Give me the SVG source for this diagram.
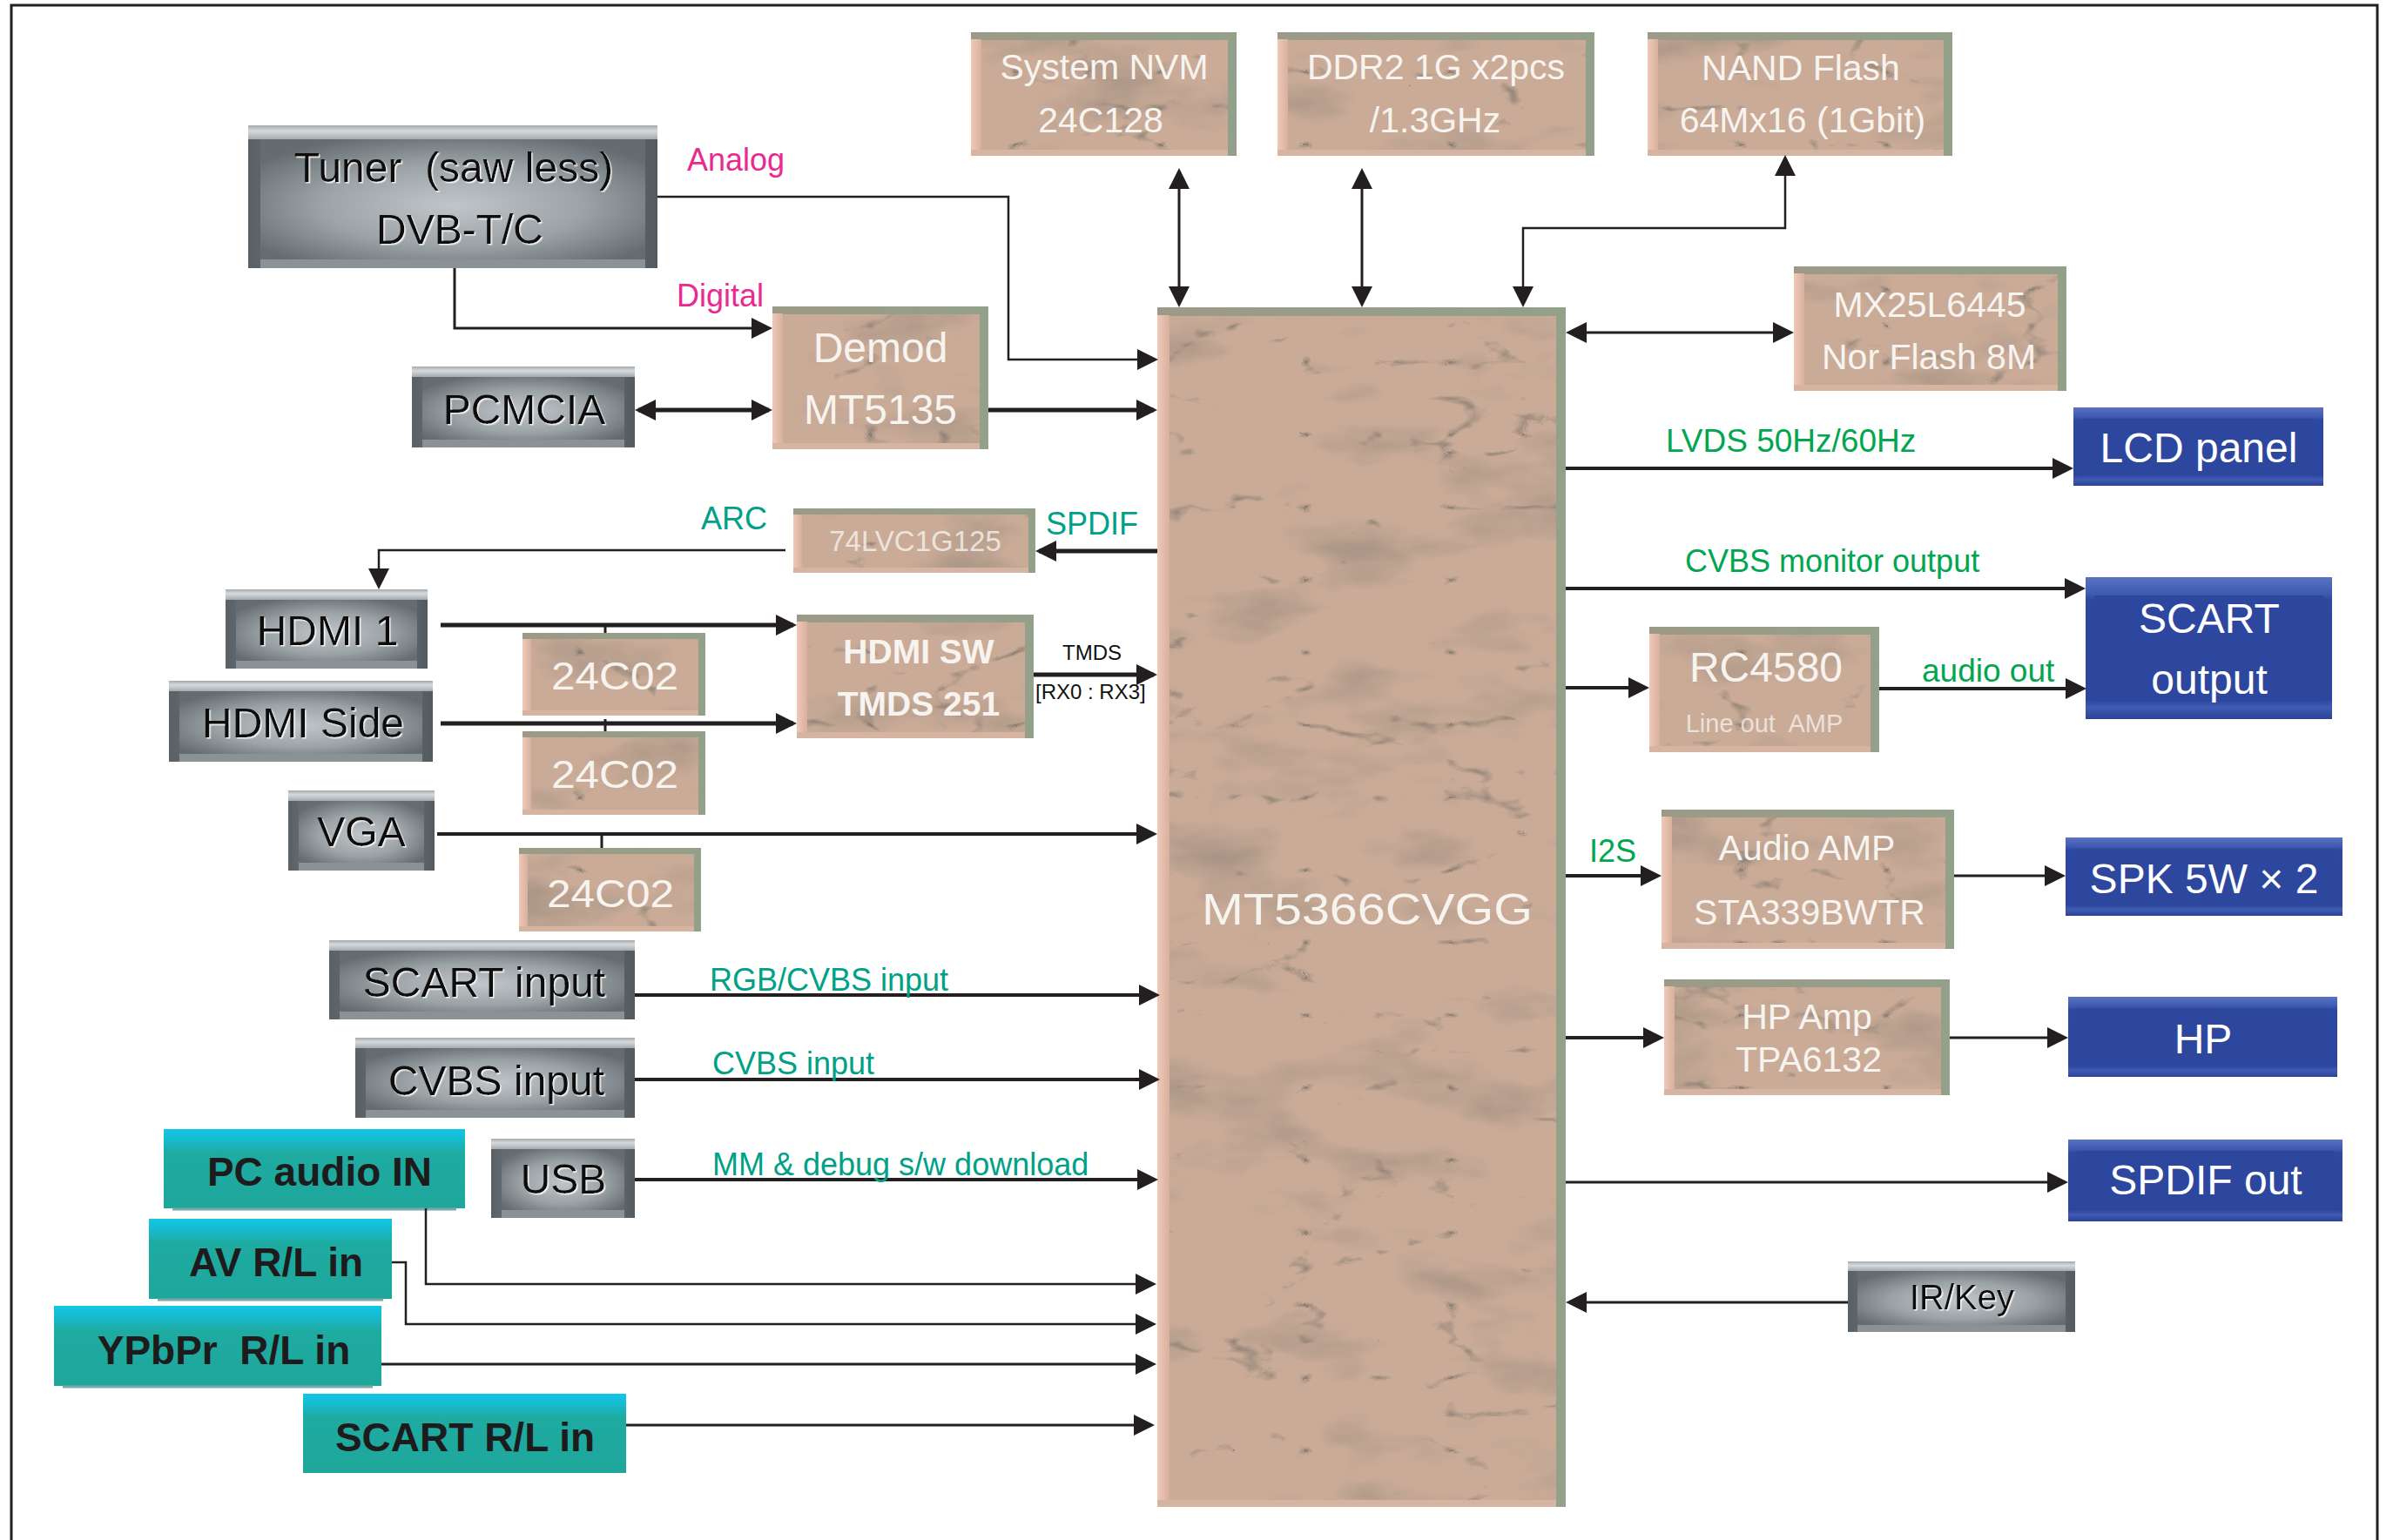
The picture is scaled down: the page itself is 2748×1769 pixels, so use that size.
<svg xmlns="http://www.w3.org/2000/svg" width="2748" height="1769" viewBox="0 0 2748 1769">
  <defs>
    <style>
      text { font-family: "Liberation Sans", Arial, sans-serif; }
      .gtx { font-size: 48px; fill: #0d0d0d; text-anchor: middle; filter: url(#hi); white-space: pre; }
      .ttx { font-size: 41px; fill: #f7f3ef; text-anchor: middle; }
      .btx { font-size: 48px; fill: #ffffff; text-anchor: middle; }
      .qtx { font-size: 46px; font-weight: bold; fill: #1e1b1d; text-anchor: middle; white-space: pre; }
      .pink { font-size: 36px; fill: #ea2a8e; }
      .teal { font-size: 36px; fill: #00a186; }
      .grn { font-size: 37px; fill: #00a650; }
      .blk { font-size: 24px; fill: #111111; white-space: pre; }
      .gs { fill: url(#gSide); }
      .gt { fill: url(#gTop); }
      .gb { fill: #8a9296; }
      .gf { fill: url(#gFace); }
      .te { fill: url(#tEdge); }
      .tl { fill: url(#tLeft); }
      .tb { fill: #d6b4a2; }
      .tf { fill: #c9ab97; filter: url(#marble); }
      .be { fill: url(#bEdge); }
      .bf { fill: #2e479e; }
      .qe { fill: url(#qEdge); }
      .qs { stroke: #79a9ad; stroke-width: 3; }
      .cn { fill: none; stroke: #231f20; stroke-linejoin: miter; }
      .w2 { stroke-width: 2.5; }
      .w3 { stroke-width: 3; }
      .w4 { stroke-width: 4; }
      .w5 { stroke-width: 5; }
    </style>
    <!-- metallic grey boxes -->
    <linearGradient id="gSide" x1="0" y1="0" x2="1" y2="0">
      <stop offset="0" stop-color="#596166"/>
      <stop offset="0.5" stop-color="#8d9498"/>
      <stop offset="1" stop-color="#535b60"/>
    </linearGradient>
    <linearGradient id="gTop" x1="0" y1="0" x2="0" y2="1">
      <stop offset="0" stop-color="#a3a9ad"/>
      <stop offset="0.4" stop-color="#d6dadd"/>
      <stop offset="1" stop-color="#a4aaae"/>
    </linearGradient>
    <radialGradient id="gFace" cx="0.5" cy="0.55" r="0.62">
      <stop offset="0" stop-color="#c0c5c9"/>
      <stop offset="0.55" stop-color="#9ca3a7"/>
      <stop offset="1" stop-color="#646c71"/>
    </radialGradient>
    <!-- marble boxes -->
    <linearGradient id="tEdge" x1="0" y1="0" x2="1" y2="0">
      <stop offset="0" stop-color="#9c9a86"/>
      <stop offset="1" stop-color="#93a08a"/>
    </linearGradient>
    <linearGradient id="tLeft" x1="0" y1="0" x2="1" y2="0">
      <stop offset="0" stop-color="#efc8b8"/>
      <stop offset="1" stop-color="#d8b09e"/>
    </linearGradient>
    <filter id="marble" x="0" y="0" width="1" height="1" color-interpolation-filters="sRGB">
      <feTurbulence type="fractalNoise" baseFrequency="0.006 0.014" numOctaves="4" seed="11" result="m"/>
      <feColorMatrix in="m" type="matrix" values="0 0 0 0 0.55  0 0 0 0 0.50  0 0 0 0 0.46  1.5 0 0 0 -0.8" result="blot"/>
      <feTurbulence type="turbulence" baseFrequency="0.006 0.012" numOctaves="4" seed="5" result="t"/>
      <feColorMatrix in="t" type="matrix" values="0 0 0 0 0.42  0 0 0 0 0.40  0 0 0 0 0.38  -5 0 0 0 0.6" result="veins"/>
      <feComposite in="blot" in2="SourceGraphic" operator="atop" result="b1"/>
      <feComposite in="veins" in2="b1" operator="atop"/>
    </filter>
    <!-- blue boxes -->
    <linearGradient id="bEdge" x1="0" y1="0" x2="0" y2="1">
      <stop offset="0" stop-color="#5a72c2"/>
      <stop offset="0.12" stop-color="#3e59b1"/>
      <stop offset="0.16" stop-color="#2f489f"/>
      <stop offset="0.86" stop-color="#2d459c"/>
      <stop offset="0.92" stop-color="#3f5bb3"/>
      <stop offset="1" stop-color="#2b4296"/>
    </linearGradient>
    <!-- teal boxes -->
    <linearGradient id="qEdge" x1="0" y1="0" x2="0" y2="1">
      <stop offset="0" stop-color="#12c6e6"/>
      <stop offset="0.14" stop-color="#17bacd"/>
      <stop offset="0.3" stop-color="#1eaba2"/>
      <stop offset="1" stop-color="#1fa79b"/>
    </linearGradient>
    <filter id="hi" x="-5%" y="-10%" width="110%" height="130%">
      <feDropShadow dx="1.5" dy="1.5" stdDeviation="0.4" flood-color="#ffffff" flood-opacity="0.85"/>
    </filter>
    <marker id="ah" viewBox="0 0 24 24" refX="20" refY="12" markerWidth="24" markerHeight="24" markerUnits="userSpaceOnUse" orient="auto-start-reverse">
      <path d="M0,0 L24,12 L0,24 z" fill="#231f20"/>
    </marker>
  </defs>

  <rect x="0" y="0" width="2748" height="1769" fill="#ffffff"/>
  <!-- page frame -->
  <rect x="13" y="6" width="2717" height="1800" fill="none" stroke="#231f20" stroke-width="3"/>

  <!-- ===== grey source / control blocks ===== -->
  <g id="tuner">
    <rect class="gs" x="285" y="144" width="470" height="164"/>
    <rect class="gt" x="285" y="144" width="470" height="16"/>
    <rect class="gb" x="299" y="298" width="442" height="10"/>
    <rect class="gf" x="299" y="160" width="442" height="138"/>
    <text class="gtx" x="521" y="209">Tuner  (saw less)</text>
    <text class="gtx" x="528" y="280">DVB-T/C</text>
  </g>
  <g id="pcmcia">
    <rect class="gs" x="473" y="421" width="256" height="93"/>
    <rect class="gt" x="473" y="421" width="256" height="12"/>
    <rect class="gb" x="485" y="505" width="232" height="9"/>
    <rect class="gf" x="485" y="433" width="232" height="72"/>
    <text class="gtx" x="602" y="487">PCMCIA</text>
  </g>
  <g id="hdmi1">
    <rect class="gs" x="259" y="677" width="232" height="91"/>
    <rect class="gt" x="259" y="677" width="232" height="12"/>
    <rect class="gb" x="271" y="759" width="208" height="9"/>
    <rect class="gf" x="271" y="689" width="208" height="70"/>
    <text class="gtx" x="376" y="741">HDMI 1</text>
  </g>
  <g id="hdmi-side">
    <rect class="gs" x="194" y="782" width="303" height="93"/>
    <rect class="gt" x="194" y="782" width="303" height="12"/>
    <rect class="gb" x="206" y="866" width="279" height="9"/>
    <rect class="gf" x="206" y="794" width="279" height="72"/>
    <text class="gtx" x="348" y="847">HDMI Side</text>
  </g>
  <g id="vga">
    <rect class="gs" x="331" y="908" width="168" height="92"/>
    <rect class="gt" x="331" y="908" width="168" height="12"/>
    <rect class="gb" x="343" y="991" width="144" height="9"/>
    <rect class="gf" x="343" y="920" width="144" height="71"/>
    <text class="gtx" x="415" y="972">VGA</text>
  </g>
  <g id="scart-input">
    <rect class="gs" x="378" y="1080" width="351" height="91"/>
    <rect class="gt" x="378" y="1080" width="351" height="12"/>
    <rect class="gb" x="390" y="1162" width="327" height="9"/>
    <rect class="gf" x="390" y="1092" width="327" height="70"/>
    <text class="gtx" x="556" y="1145">SCART input</text>
  </g>
  <g id="cvbs-input">
    <rect class="gs" x="408" y="1192" width="321" height="92"/>
    <rect class="gt" x="408" y="1192" width="321" height="12"/>
    <rect class="gb" x="420" y="1275" width="297" height="9"/>
    <rect class="gf" x="420" y="1204" width="297" height="71"/>
    <text class="gtx" x="570" y="1258">CVBS input</text>
  </g>
  <g id="usb">
    <rect class="gs" x="564" y="1308" width="165" height="91"/>
    <rect class="gt" x="564" y="1308" width="165" height="12"/>
    <rect class="gb" x="576" y="1390" width="141" height="9"/>
    <rect class="gf" x="576" y="1320" width="141" height="70"/>
    <text class="gtx" x="647" y="1371">USB</text>
  </g>
  <g id="ir-key">
    <rect class="gs" x="2122" y="1449" width="261" height="81"/>
    <rect class="gt" x="2122" y="1449" width="261" height="11"/>
    <rect class="gb" x="2133" y="1522" width="239" height="8"/>
    <rect class="gf" x="2133" y="1460" width="239" height="62"/>
    <text class="gtx" x="2253" y="1504" style="font-size:40px">IR/Key</text>
  </g>

  <!-- ===== marble IC blocks ===== -->
  <g id="demod">
    <rect class="te" x="887" y="352" width="248" height="164"/>
    <rect class="tl" x="887" y="360" width="12" height="156"/>
    <rect class="tb" x="887" y="509" width="238" height="7"/>
    <rect class="tf" x="899" y="361" width="226" height="148"/>
    <text class="ttx" x="1011" y="416" style="font-size:48px">Demod</text>
    <text class="ttx" x="1011" y="487" style="font-size:48px">MT5135</text>
  </g>
  <g id="system-nvm">
    <rect class="te" x="1115" y="37" width="305" height="142"/>
    <rect class="tl" x="1115" y="45" width="12" height="134"/>
    <rect class="tb" x="1115" y="172" width="295" height="7"/>
    <rect class="tf" x="1127" y="46" width="283" height="126"/>
    <text class="ttx" x="1268" y="91">System NVM</text>
    <text class="ttx" x="1264" y="152">24C128</text>
  </g>
  <g id="ddr2">
    <rect class="te" x="1467" y="37" width="364" height="142"/>
    <rect class="tl" x="1467" y="45" width="12" height="134"/>
    <rect class="tb" x="1467" y="172" width="354" height="7"/>
    <rect class="tf" x="1479" y="46" width="342" height="126"/>
    <text class="ttx" x="1649" y="91">DDR2 1G x2pcs</text>
    <text class="ttx" x="1648" y="152">/1.3GHz</text>
  </g>
  <g id="nand-flash">
    <rect class="te" x="1892" y="37" width="350" height="142"/>
    <rect class="tl" x="1892" y="45" width="12" height="134"/>
    <rect class="tb" x="1892" y="172" width="340" height="7"/>
    <rect class="tf" x="1904" y="46" width="328" height="126"/>
    <text class="ttx" x="2068" y="92">NAND Flash</text>
    <text class="ttx" x="2070" y="152">64Mx16 (1Gbit)</text>
  </g>
  <g id="nor-flash">
    <rect class="te" x="2060" y="306" width="313" height="143"/>
    <rect class="tl" x="2060" y="314" width="12" height="135"/>
    <rect class="tb" x="2060" y="442" width="303" height="7"/>
    <rect class="tf" x="2072" y="315" width="291" height="127"/>
    <text class="ttx" x="2216" y="364">MX25L6445</text>
    <text class="ttx" x="2215" y="424">Nor Flash 8M</text>
  </g>
  <g id="buffer-74lvc">
    <rect class="te" x="911" y="584" width="278" height="74"/>
    <rect class="tl" x="911" y="591" width="10" height="67"/>
    <rect class="tb" x="911" y="652" width="270" height="6"/>
    <rect class="tf" x="921" y="591" width="260" height="61"/>
    <text class="ttx" x="1051" y="633" style="font-size:33px;fill-opacity:0.8">74LVC1G125</text>
  </g>
  <g id="hdmi-sw">
    <rect class="te" x="915" y="706" width="272" height="142"/>
    <rect class="tl" x="915" y="714" width="12" height="134"/>
    <rect class="tb" x="915" y="841" width="262" height="7"/>
    <rect class="tf" x="927" y="715" width="250" height="126"/>
    <text class="ttx" x="1055" y="762" style="font-size:39px;font-weight:bold">HDMI SW</text>
    <text class="ttx" x="1055" y="822" style="font-size:39px;font-weight:bold">TMDS 251</text>
  </g>
  <g id="eeprom-1">
    <rect class="te" x="600" y="727" width="210" height="95"/>
    <rect class="tl" x="600" y="734" width="10" height="88"/>
    <rect class="tb" x="600" y="816" width="202" height="6"/>
    <rect class="tf" x="610" y="734" width="192" height="82"/>
    <text class="ttx" x="633" y="792" style="font-size:44px;text-anchor:start" textLength="146" lengthAdjust="spacingAndGlyphs">24C02</text>
  </g>
  <g id="eeprom-2">
    <rect class="te" x="600" y="840" width="210" height="96"/>
    <rect class="tl" x="600" y="847" width="10" height="89"/>
    <rect class="tb" x="600" y="930" width="202" height="6"/>
    <rect class="tf" x="610" y="847" width="192" height="83"/>
    <text class="ttx" x="633" y="905" style="font-size:44px;text-anchor:start" textLength="146" lengthAdjust="spacingAndGlyphs">24C02</text>
  </g>
  <g id="eeprom-3">
    <rect class="te" x="596" y="974" width="209" height="96"/>
    <rect class="tl" x="596" y="981" width="10" height="89"/>
    <rect class="tb" x="596" y="1064" width="201" height="6"/>
    <rect class="tf" x="606" y="981" width="191" height="83"/>
    <text class="ttx" x="628" y="1042" style="font-size:44px;text-anchor:start" textLength="146" lengthAdjust="spacingAndGlyphs">24C02</text>
  </g>
  <g id="soc">
    <rect class="te" x="1329" y="353" width="469" height="1378"/>
    <rect class="tl" x="1329" y="362" width="14" height="1369"/>
    <rect class="tb" x="1329" y="1723" width="458" height="8"/>
    <rect class="tf" x="1343" y="363" width="444" height="1360"/>
    <text class="ttx" x="1380" y="1062" style="font-size:50px;text-anchor:start" textLength="380" lengthAdjust="spacingAndGlyphs">MT5366CVGG</text>
  </g>
  <g id="rc4580">
    <rect class="te" x="1894" y="720" width="264" height="144"/>
    <rect class="tl" x="1894" y="728" width="12" height="136"/>
    <rect class="tb" x="1894" y="857" width="254" height="7"/>
    <rect class="tf" x="1906" y="729" width="242" height="128"/>
    <text class="ttx" x="2028" y="783" style="font-size:48px">RC4580</text>
    <text class="ttx" x="2026" y="841" style="font-size:29px;fill-opacity:0.75;white-space:pre">Line out  AMP</text>
  </g>
  <g id="audio-amp">
    <rect class="te" x="1908" y="930" width="336" height="160"/>
    <rect class="tl" x="1908" y="938" width="12" height="152"/>
    <rect class="tb" x="1908" y="1083" width="326" height="7"/>
    <rect class="tf" x="1920" y="939" width="314" height="144"/>
    <text class="ttx" x="2075" y="988">Audio AMP</text>
    <text class="ttx" x="2078" y="1062">STA339BWTR</text>
  </g>
  <g id="hp-amp">
    <rect class="te" x="1911" y="1125" width="328" height="133"/>
    <rect class="tl" x="1911" y="1133" width="12" height="125"/>
    <rect class="tb" x="1911" y="1251" width="318" height="7"/>
    <rect class="tf" x="1923" y="1134" width="306" height="117"/>
    <text class="ttx" x="2075" y="1182">HP Amp</text>
    <text class="ttx" x="2077" y="1231">TPA6132</text>
  </g>

  <!-- ===== blue output blocks ===== -->
  <g id="lcd-panel">
    <rect class="be" x="2381" y="468" width="287" height="90"/>
    <rect class="bf" x="2391" y="481" width="267" height="64"/>
    <text class="btx" x="2525" y="531">LCD panel</text>
  </g>
  <g id="scart-output">
    <rect class="be" x="2395" y="663" width="283" height="163"/>
    <rect class="bf" x="2405" y="684" width="263" height="122"/>
    <text class="btx" x="2537" y="727">SCART</text>
    <text class="btx" x="2537" y="797">output</text>
  </g>
  <g id="speaker">
    <rect class="be" x="2372" y="962" width="318" height="90"/>
    <rect class="bf" x="2382" y="975" width="298" height="64"/>
    <text class="btx" x="2531" y="1026">SPK 5W × 2</text>
  </g>
  <g id="hp">
    <rect class="be" x="2375" y="1145" width="309" height="92"/>
    <rect class="bf" x="2385" y="1158" width="289" height="66"/>
    <text class="btx" x="2530" y="1210">HP</text>
  </g>
  <g id="spdif-out">
    <rect class="be" x="2375" y="1309" width="315" height="94"/>
    <rect class="bf" x="2385" y="1322" width="295" height="68"/>
    <text class="btx" x="2533" y="1372">SPDIF out</text>
  </g>

  <!-- ===== teal audio inputs ===== -->
  <g id="pc-audio-in">
    <rect class="qe" x="188" y="1297" width="346" height="91"/>
    <line class="qs" x1="198" y1="1389" x2="524" y2="1389"/>
    <text class="qtx" x="367" y="1362">PC audio IN</text>
  </g>
  <g id="av-rl-in">
    <rect class="qe" x="171" y="1400" width="279" height="92"/>
    <line class="qs" x1="181" y1="1493" x2="440" y2="1493"/>
    <text class="qtx" x="317" y="1466">AV R/L in</text>
  </g>
  <g id="ypbpr-rl-in">
    <rect class="qe" x="62" y="1500" width="376" height="92"/>
    <line class="qs" x1="72" y1="1593" x2="428" y2="1593"/>
    <text class="qtx" x="257" y="1567">YPbPr  R/L in</text>
  </g>
  <g id="scart-rl-in">
    <rect class="qe" x="348" y="1601" width="371" height="91"/>
    <text class="qtx" x="534" y="1667">SCART R/L in</text>
  </g>

  <!-- ===== connectors ===== -->
  <g id="connectors">
    <path class="cn w2" d="M755,226 H1158 V413 H1326" marker-end="url(#ah)"/>
    <path class="cn w3" d="M522,308 V377 H883" marker-end="url(#ah)"/>
    <path class="cn w5" d="M733,471 H883" marker-start="url(#ah)" marker-end="url(#ah)"/>
    <path class="cn w5" d="M1135,471 H1325" marker-end="url(#ah)"/>
    <path class="cn w3" d="M1354,197 V349" marker-start="url(#ah)" marker-end="url(#ah)"/>
    <path class="cn w3" d="M1564,197 V349" marker-start="url(#ah)" marker-end="url(#ah)"/>
    <path class="cn w2" d="M1749,349 V262 H2050 V182" marker-start="url(#ah)" marker-end="url(#ah)"/>
    <path class="cn w3" d="M1802,382 H2056" marker-start="url(#ah)" marker-end="url(#ah)"/>
    <path class="cn w4" d="M1798,538 H2377" marker-end="url(#ah)"/>
    <path class="cn w4" d="M1798,676 H2391" marker-end="url(#ah)"/>
    <path class="cn w4" d="M1798,790 H1890" marker-end="url(#ah)"/>
    <path class="cn w4" d="M2158,791 H2392" marker-end="url(#ah)"/>
    <path class="cn w4" d="M1798,1006 H1904" marker-end="url(#ah)"/>
    <path class="cn w3" d="M2244,1006 H2368" marker-end="url(#ah)"/>
    <path class="cn w4" d="M1798,1192 H1907" marker-end="url(#ah)"/>
    <path class="cn w3" d="M2239,1192 H2371" marker-end="url(#ah)"/>
    <path class="cn w3" d="M1798,1358 H2371" marker-end="url(#ah)"/>
    <path class="cn w3" d="M2122,1496 H1802" marker-end="url(#ah)"/>
    <path class="cn w5" d="M1329,633 H1193" marker-end="url(#ah)"/>
    <path class="cn w2" d="M902,632 H435 V673" marker-end="url(#ah)"/>
    <path class="cn w5" d="M506,718 H911" marker-end="url(#ah)"/>
    <path class="cn w5" d="M506,831 H911" marker-end="url(#ah)"/>
    <path class="cn w3" d="M695,718 V727 M695,826 V840 M691,958 V974"/>
    <path class="cn w4" d="M502,958 H1325" marker-end="url(#ah)"/>
    <path class="cn w5" d="M1187,775 H1325" marker-end="url(#ah)"/>
    <path class="cn w4" d="M729,1143 H1328" marker-end="url(#ah)"/>
    <path class="cn w4" d="M729,1240 H1328" marker-end="url(#ah)"/>
    <path class="cn w4" d="M729,1355 H1326" marker-end="url(#ah)"/>
    <path class="cn w2" d="M489,1388 V1475 H1324" marker-end="url(#ah)"/>
    <path class="cn w2" d="M450,1450 H466 V1521 H1324" marker-end="url(#ah)"/>
    <path class="cn w3" d="M438,1567 H1324" marker-end="url(#ah)"/>
    <path class="cn w3" d="M719,1637 H1322" marker-end="url(#ah)"/>
  </g>

  <!-- ===== connector labels ===== -->
  <g id="labels">
    <text class="pink" x="789" y="196">Analog</text>
    <text class="pink" x="777" y="352">Digital</text>
    <text class="teal" x="805" y="608">ARC</text>
    <text class="teal" x="1201" y="614">SPDIF</text>
    <text class="blk" x="1220" y="758">TMDS</text>
    <text class="blk" x="1189" y="803">[RX0 : RX3]</text>
    <text class="grn" x="1913" y="519">LVDS 50Hz/60Hz</text>
    <text class="grn" x="1935" y="657" style="font-size:36px">CVBS monitor output</text>
    <text class="grn" x="2207" y="783">audio out</text>
    <text class="grn" x="1825" y="990" style="font-size:36px">I2S</text>
    <text class="teal" x="815" y="1138">RGB/CVBS input</text>
    <text class="teal" x="818" y="1234">CVBS input</text>
    <text class="teal" x="818" y="1350">MM &amp; debug s/w download</text>
  </g>
</svg>
